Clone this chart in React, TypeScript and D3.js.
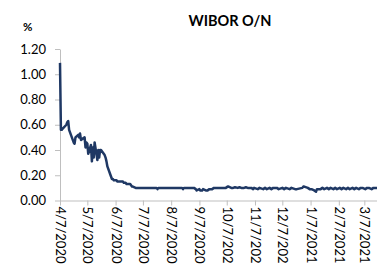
import { useEffect, useRef } from "react";
import * as d3 from "d3";

// WIBOR O/N fixing, %
const dates = [
  "2020-04-07", "2020-04-08", "2020-04-09", "2020-04-10", "2020-04-14", "2020-04-15", "2020-04-16", "2020-04-17",
  "2020-04-20", "2020-04-21", "2020-04-22", "2020-04-23", "2020-04-24", "2020-04-27", "2020-04-28", "2020-04-29",
  "2020-04-30", "2020-05-04", "2020-05-05", "2020-05-06", "2020-05-07", "2020-05-08", "2020-05-11", "2020-05-12",
  "2020-05-13", "2020-05-14", "2020-05-15", "2020-05-18", "2020-05-19", "2020-05-20", "2020-05-21", "2020-05-22",
  "2020-05-25", "2020-05-26", "2020-05-27", "2020-05-28", "2020-05-29", "2020-06-01", "2020-06-02", "2020-06-03",
  "2020-06-04", "2020-06-05", "2020-06-08", "2020-06-09", "2020-06-10", "2020-06-12", "2020-06-15", "2020-06-16",
  "2020-06-17", "2020-06-18", "2020-06-19", "2020-06-22", "2020-06-23", "2020-06-24", "2020-06-25", "2020-06-26",
  "2020-06-29", "2020-07-03", "2020-07-10", "2020-07-17", "2020-07-22", "2020-07-23", "2020-07-24", "2020-07-31",
  "2020-08-07", "2020-08-14", "2020-08-19", "2020-08-20", "2020-08-21", "2020-08-28", "2020-09-01", "2020-09-03",
  "2020-09-04", "2020-09-07", "2020-09-08", "2020-09-10", "2020-09-11", "2020-09-14", "2020-09-16", "2020-09-18",
  "2020-09-21", "2020-09-23", "2020-09-30", "2020-10-06", "2020-10-08", "2020-10-09", "2020-10-12", "2020-10-14",
  "2020-10-16", "2020-10-19", "2020-10-21", "2020-10-23", "2020-10-26", "2020-10-28", "2020-10-30", "2020-11-03",
  "2020-11-05", "2020-11-06", "2020-11-10", "2020-11-12", "2020-11-16", "2020-11-18", "2020-11-20", "2020-11-23",
  "2020-11-25", "2020-11-27", "2020-12-01", "2020-12-03", "2020-12-07", "2020-12-09", "2020-12-11", "2020-12-15",
  "2020-12-17", "2020-12-21", "2020-12-23", "2020-12-29", "2020-12-30", "2020-12-31", "2021-01-04", "2021-01-06",
  "2021-01-08", "2021-01-11", "2021-01-13", "2021-01-14", "2021-01-15", "2021-01-18", "2021-01-20", "2021-01-22",
  "2021-01-25", "2021-01-27", "2021-01-29", "2021-02-01", "2021-02-03", "2021-02-05", "2021-02-08", "2021-02-10",
  "2021-02-12", "2021-02-15", "2021-02-17", "2021-02-19", "2021-02-22", "2021-02-24", "2021-02-26", "2021-03-01",
  "2021-03-03", "2021-03-05", "2021-03-08", "2021-03-10", "2021-03-12", "2021-03-15", "2021-03-17", "2021-03-19",
  "2021-03-22",
];

const values = [
  1.09, 0.56, 0.56, 0.57, 0.6, 0.62, 0.63, 0.56,
  0.5, 0.48, 0.46, 0.45, 0.5, 0.52, 0.5, 0.53,
  0.48, 0.5, 0.42, 0.46, 0.45, 0.37, 0.44, 0.31,
  0.42, 0.34, 0.46, 0.32, 0.4, 0.34, 0.4, 0.4,
  0.37, 0.36, 0.34, 0.31, 0.27, 0.21, 0.19, 0.17,
  0.17, 0.16, 0.16, 0.15, 0.15, 0.15, 0.15, 0.14,
  0.14, 0.14, 0.13, 0.13, 0.13, 0.12, 0.11, 0.11,
  0.1, 0.1, 0.1, 0.1, 0.1, 0.09, 0.1, 0.1,
  0.1, 0.1, 0.1, 0.09, 0.1, 0.1, 0.1, 0.09,
  0.08, 0.09, 0.08, 0.08, 0.09, 0.08, 0.08, 0.09,
  0.09, 0.1, 0.1, 0.1, 0.11, 0.11, 0.1, 0.1,
  0.105, 0.1, 0.105, 0.1, 0.1, 0.105, 0.1, 0.1,
  0.09, 0.1, 0.09, 0.1, 0.09, 0.1, 0.09, 0.1,
  0.09, 0.1, 0.1, 0.09, 0.1, 0.09, 0.1, 0.09,
  0.1, 0.09, 0.09, 0.1, 0.11, 0.11, 0.1, 0.09,
  0.09, 0.08, 0.07, 0.09, 0.09, 0.09, 0.1, 0.09,
  0.1, 0.09, 0.1, 0.09, 0.1, 0.09, 0.1, 0.09,
  0.1, 0.09, 0.1, 0.09, 0.1, 0.09, 0.1, 0.09,
  0.1, 0.1, 0.09, 0.1, 0.1, 0.09, 0.1, 0.1,
  0.1,
];

const yTicks = [0, 0.2, 0.4, 0.6, 0.8, 1.0, 1.2];
const xTicks = [
  "2020-04-07", "2020-05-07", "2020-06-07", "2020-07-07", "2020-08-07", "2020-09-07",
  "2020-10-07", "2020-11-07", "2020-12-07", "2021-01-07", "2021-02-07", "2021-03-07",
];

const FONT = "Lato, 'Open Sans', sans-serif";

export default function App() {
  const svgRef = useRef<SVGSVGElement>(null);

  useEffect(() => {
    if (!svgRef.current) return;
    const svg = d3.select(svgRef.current);
    svg.selectAll("*").remove();

    const width = 377;
    const height = 264;
    const left = 60;
    const right = 378;
    const top = 49;
    const bottom = 200.5;

    svg.attr("width", width).attr("height", height).attr("viewBox", `0 0 ${width} ${height}`);

    const parse = d3.timeParse("%Y-%m-%d");
    const data = dates.map((d, i) => ({ date: parse(d) as Date, value: values[i] }));

    const x = d3
      .scaleTime()
      .domain([parse("2020-04-07") as Date, parse("2021-03-22") as Date])
      .range([left, right]);

    const y = d3.scaleLinear().domain([0, 1.2]).range([bottom, top]);

    // title
    svg.append("text")
      .attr("x", 230)
      .attr("y", 26)
      .attr("text-anchor", "middle")
      .attr("font-family", FONT)
      .attr("font-weight", "bold")
      .attr("font-size", "14.5px")
      .attr("fill", "#000")
      .text("WIBOR O/N");

    svg.append("text")
      .attr("x", 23)
      .attr("y", 31)
      .attr("font-family", FONT)
      .attr("font-weight", "bold")
      .attr("font-size", "11.5px")
      .attr("fill", "#000")
      .text("%");

    // y axis
    const yAxis = svg.append("g")
      .attr("transform", `translate(${left},0)`)
      .call(d3.axisLeft(y).tickValues(yTicks).tickFormat(d3.format(".2f")).tickSize(5).tickSizeOuter(0).tickPadding(9));
    yAxis.select(".domain").attr("stroke", "#bfbfbf");
    yAxis.selectAll(".tick line").attr("stroke", "#bfbfbf");
    yAxis.selectAll("text")
      .attr("font-family", FONT)
      .attr("font-size", "13px")
      .attr("fill", "#000");

    // x axis
    const xAxis = svg.append("g")
      .attr("transform", `translate(0,${bottom})`)
      .call(
        d3.axisBottom(x)
          .tickValues(xTicks.map((d) => parse(d) as Date))
          .tickFormat((d) => d3.timeFormat("%-m/%-d/%Y")(d as Date))
          .tickSize(5)
          .tickSizeOuter(0)
      );
    xAxis.select(".domain").attr("stroke", "#bfbfbf");
    xAxis.selectAll(".tick line").attr("stroke", "#bfbfbf");
    xAxis.selectAll("text")
      .attr("font-family", FONT)
      .attr("font-size", "13px")
      .attr("fill", "#000")
      .attr("transform", "rotate(90)")
      .attr("x", 6)
      .attr("y", 0)
      .attr("dy", "0.35em")
      .attr("text-anchor", "start");

    const line = d3
      .line<{ date: Date; value: number }>()
      .x((d) => x(d.date))
      .y((d) => y(d.value));

    svg.append("path")
      .datum(data)
      .attr("fill", "none")
      .attr("stroke", "#1f3864")
      .attr("stroke-width", 2.5)
      .attr("stroke-linejoin", "round")
      .attr("d", line);
  }, []);

  return (
    <svg
      ref={svgRef}
      style={{ position: "absolute", left: 0, top: 0, background: "#fff" }}
    />
  );
}
